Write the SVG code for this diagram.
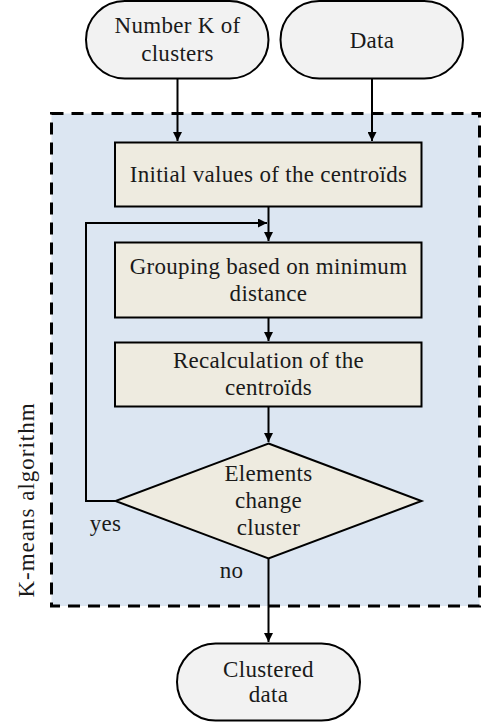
<svg xmlns="http://www.w3.org/2000/svg" width="485" height="724" viewBox="0 0 485 724">
<style>
text{font-family:"Liberation Serif","DejaVu Serif",serif;font-size:23px;letter-spacing:0.3px;fill:#1a1a1a;text-anchor:middle}
.term{fill:#f2f2f2;stroke:#000;stroke-width:2}
.proc{fill:#eeebe0;stroke:#000;stroke-width:2}
.conn{fill:none;stroke:#000;stroke-width:2}
</style>
<defs>
<marker id="ah" viewBox="0 0 10 10" refX="10" refY="5" markerWidth="4.5" markerHeight="4.5" orient="auto" markerUnits="strokeWidth">
<path d="M0,0 L10,5 L0,10 z" fill="#000"/>
</marker>
</defs>
<g id="cluster">
<rect x="51.5" y="113.5" width="428" height="492.5" fill="#dce6f2" stroke="#000" stroke-width="3" stroke-dasharray="12 8"/>
<text transform="translate(34,500) rotate(-90)" x="0" y="0" style="letter-spacing:1px">K-means algorithm</text>
</g>
<g id="connectors">
<path class="conn" d="M177.5,79 V141" marker-end="url(#ah)"/>
<path class="conn" d="M372,79 V141" marker-end="url(#ah)"/>
<path class="conn" d="M268.5,206 V241" marker-end="url(#ah)"/>
<path class="conn" d="M115,501 H86 V223 H267" marker-end="url(#ah)"/>
<path class="conn" d="M268.5,317 V341" marker-end="url(#ah)"/>
<path class="conn" d="M268.5,407 V442" marker-end="url(#ah)"/>
<path class="conn" d="M268.5,558 V642" marker-end="url(#ah)"/>
<text x="105.5" y="531">yes</text>
<text x="231.5" y="578">no</text>
</g>
<g id="n_k">
<rect class="term" x="86" y="1" width="182.5" height="77.5" rx="38.75"/>
<text x="177.5" y="33">Number K of</text>
<text x="177.5" y="61">clusters</text>
</g>
<g id="n_data">
<rect class="term" x="280.5" y="1" width="182.5" height="77.5" rx="38.75"/>
<text x="372" y="48">Data</text>
</g>
<g id="n_init">
<rect class="proc" x="115" y="142.5" width="306.5" height="64"/>
<text x="268.5" y="181.5">Initial values of the centroïds</text>
</g>
<g id="n_group">
<rect class="proc" x="115" y="242.5" width="306.5" height="75"/>
<text x="268.5" y="274">Grouping based on minimum</text>
<text x="268.5" y="301">distance</text>
</g>
<g id="n_recalc">
<rect class="proc" x="115" y="342.5" width="306.5" height="64"/>
<text x="268.5" y="368">Recalculation of the</text>
<text x="268.5" y="395">centroïds</text>
</g>
<g id="n_decision">
<polygon class="proc" points="268.5,443.5 421.5,501 268.5,558.5 115.5,501"/>
<text x="268.5" y="481">Elements</text>
<text x="268.5" y="508">change</text>
<text x="268.5" y="535">cluster</text>
</g>
<g id="n_out">
<rect class="term" x="177" y="643.5" width="183" height="77" rx="38.5"/>
<text x="268.5" y="676.5">Clustered</text>
<text x="268.5" y="702">data</text>
</g>
</svg>
